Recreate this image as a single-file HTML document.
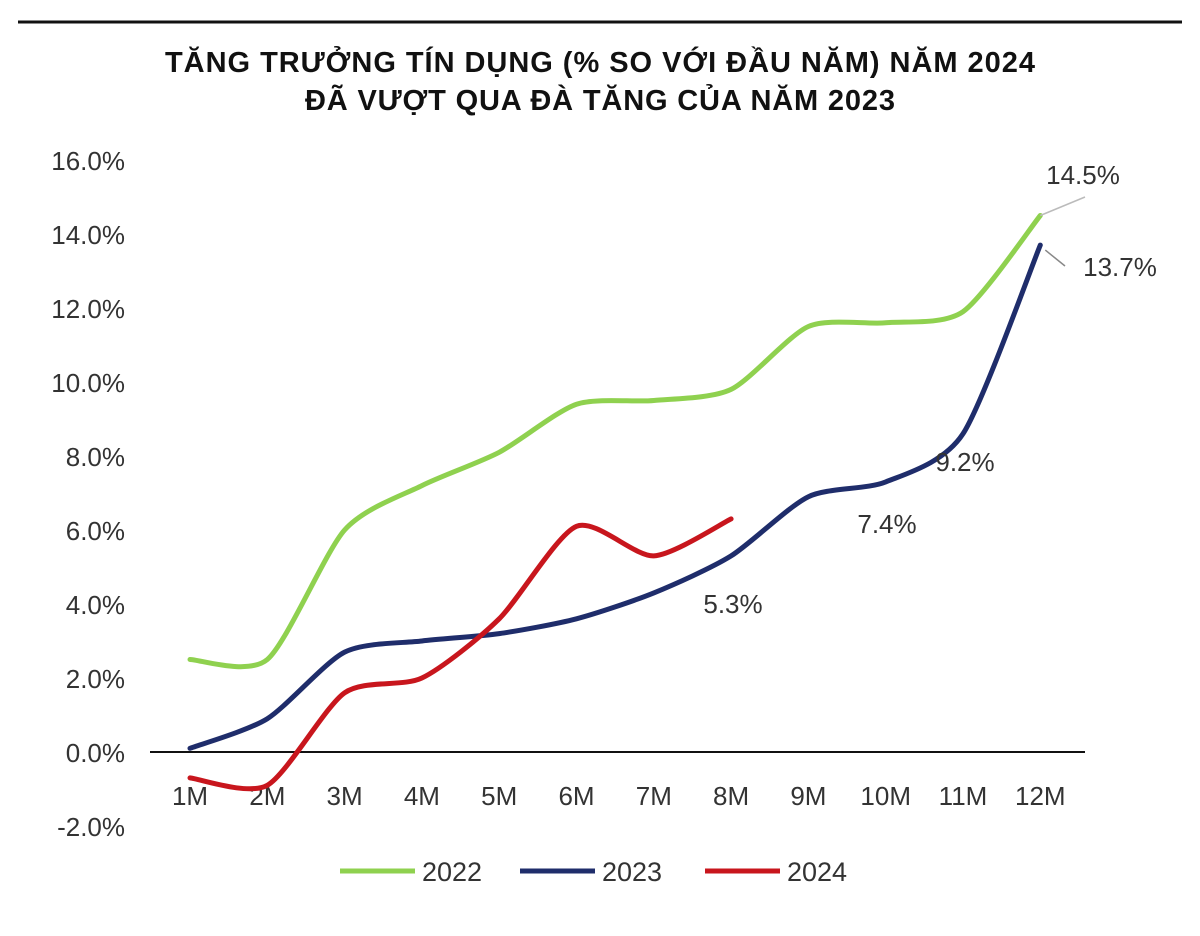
<!DOCTYPE html>
<html><head><meta charset="utf-8"><style>
html,body{margin:0;padding:0;background:#fff;}
svg{display:block;}
</style></head><body>
<svg id="chart" width="1200" height="936" viewBox="0 0 1200 936">
<line x1="18" y1="22" x2="1182" y2="22" stroke="#111" stroke-width="3"/>
<text x="600" y="72" text-anchor="middle" font-family="Liberation Sans, sans-serif" font-weight="bold" font-size="29" fill="#111" textLength="870">TĂNG TRƯỞNG TÍN DỤNG (% SO VỚI ĐẦU NĂM) NĂM 2024</text>
<text x="600" y="110" text-anchor="middle" font-family="Liberation Sans, sans-serif" font-weight="bold" font-size="29" fill="#111" textLength="590">ĐÃ VƯỢT QUA ĐÀ TĂNG CỦA NĂM 2023</text>
<g id="yaxis"></g>
<g id="xaxis"></g>
<g id="series"></g>
<g id="labels"></g>
<g id="legend"></g>
</svg>
<script>
const categories = ["1M","2M","3M","4M","5M","6M","7M","8M","9M","10M","11M","12M"];
const s2022 = [2.5,2.5,6.0,7.2,8.1,9.4,9.5,9.8,11.5,11.6,11.9,14.5];
const s2023 = [0.1,0.9,2.7,3.0,3.2,3.6,4.3,5.3,6.9,7.3,8.6,13.7];
const s2024 = [-0.7,-0.9,1.6,2.0,3.6,6.1,5.3,6.3];
const yTicks = [-2,0,2,4,6,8,10,12,14,16];
const seriesNames = ["2022","2023","2024"];
const seriesColors = ["#8fd14f","#1f2d6b","#c8161d"];

const NS="http://www.w3.org/2000/svg";
const x = i => 190 + i*77.3;
const y = v => 752 - v*37;
const FONT="Liberation Sans, sans-serif";
function mk(tag, attrs, parent){const e=document.createElementNS(NS,tag);for(const k in attrs)e.setAttribute(k,attrs[k]);parent.appendChild(e);return e;}

const ya=document.getElementById('yaxis');
yTicks.forEach(t=>{
  const e=mk('text',{x:125,y:y(t)+10,'text-anchor':'end','font-family':FONT,'font-size':26,fill:'#333'},ya);
  
  
  e.textContent=t.toFixed(1)+'%';
});
const xa=document.getElementById('xaxis');
const axl=mk('line',{x1:150,y1:y(0),x2:1085,y2:y(0),stroke:'#111','stroke-width':2},xa);


categories.forEach((c,i)=>{
  const e=mk('text',{x:x(i),y:805,'text-anchor':'middle','font-family':FONT,'font-size':26,fill:'#333'},xa);
  
  
  e.textContent=c;
});
function smooth(vals){
  const p=vals.map((v,i)=>[x(i),y(v)]);
  let d=`M${p[0][0]},${p[0][1]}`;
  for(let i=0;i<p.length-1;i++){
    const p0=p[i-1]||p[i],p1=p[i],p2=p[i+1],p3=p[i+2]||p2;
    const c1=[p1[0]+(p2[0]-p0[0])/8,p1[1]+(p2[1]-p0[1])/8];
    const c2=[p2[0]-(p3[0]-p1[0])/8,p2[1]-(p3[1]-p1[1])/8];
    d+=` C${c1[0]},${c1[1]} ${c2[0]},${c2[1]} ${p2[0]},${p2[1]}`;
  }
  return d;
}
const sg=document.getElementById('series');
[s2022,s2023,s2024].forEach((s,k)=>{
  const e=mk('path',{d:smooth(s),fill:'none',stroke:seriesColors[k],'stroke-width':5,'stroke-linecap':'round'},sg);
  
  
});
const lg=document.getElementById('labels');
const lblData=[["14.5%",1083,184],["13.7%",1120,276],["9.2%",965,471],["7.4%",887,533],["5.3%",733,613]];
lblData.forEach(([t,lx,ly])=>{
  const e=mk('text',{x:lx,y:ly,'text-anchor':'middle','font-family':FONT,'font-size':26,fill:'#333'},lg);
  
  
  e.textContent=t;
});
mk('line',{x1:x(11),y1:y(s2022[11]),x2:1085,y2:197,stroke:'#bbb','stroke-width':1.5},lg);
mk('line',{x1:x(11)+5,y1:y(s2023[11])+5,x2:1065,y2:266,stroke:'#888','stroke-width':1.5},lg);
const leg=document.getElementById('legend');
const lx=[340,520,705];
seriesNames.forEach((n,k)=>{
  const l=mk('line',{x1:lx[k],y1:871,x2:lx[k]+75,y2:871,stroke:seriesColors[k],'stroke-width':5},leg);
  
  
  const t=mk('text',{x:lx[k]+82,y:881,'font-family':FONT,'font-size':27,fill:'#333'},leg);
  
  
  t.textContent=n;
});
</script>
</body></html>
